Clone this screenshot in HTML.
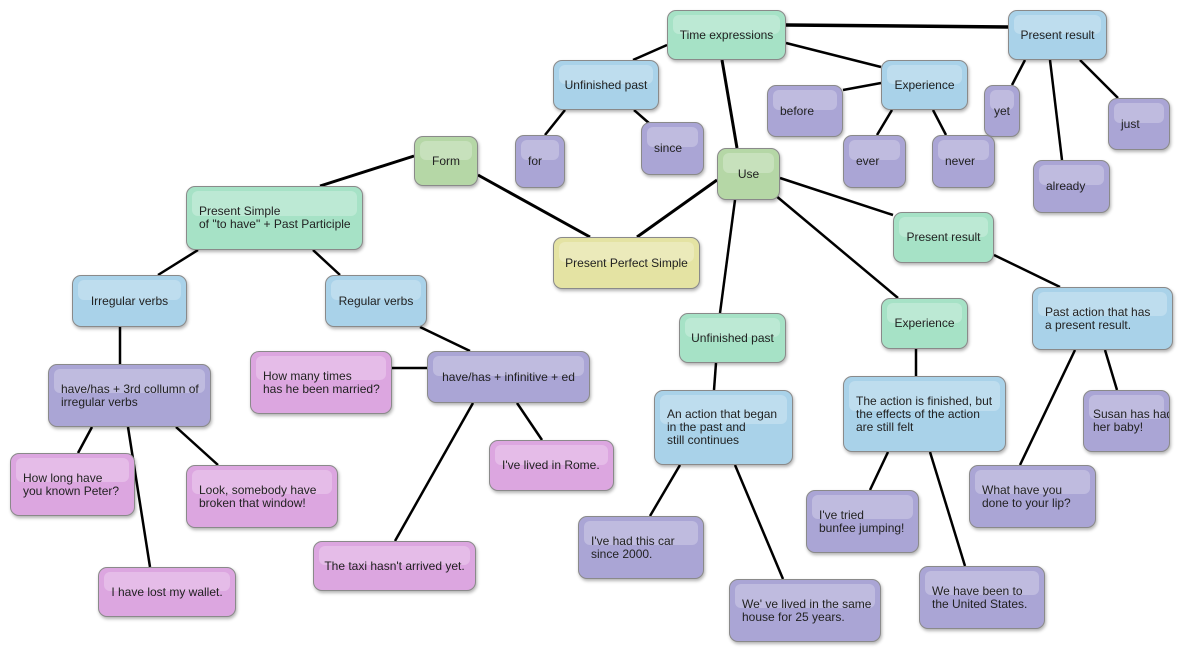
<!DOCTYPE html>
<html><head><meta charset="utf-8"><style>
body{margin:0;width:1200px;height:658px;background:#fff;position:relative;overflow:hidden;font-family:"Liberation Sans",sans-serif;}
svg{position:absolute;left:0;top:0}
.b{position:absolute;box-sizing:border-box;border:1.5px solid #8a8a8a;border-radius:9px;display:flex;align-items:center;padding:0 12px;font-size:12px;line-height:13px;color:#222;box-shadow:1px 2px 3px rgba(0,0,0,.3);overflow:hidden;white-space:nowrap}
.b::before{content:"";position:absolute;left:5px;right:5px;top:4px;height:40%;border-radius:6px;background:rgba(255,255,255,.25)}
.b span{position:relative}
.g{background:#a6e2c6}.bl{background:#a9d2e9}.p{background:#aaa5d5}.pk{background:#dca6e0}.o{background:#b5d7a6}.y{background:#e4e3a3}
.c{justify-content:center}
</style></head><body>
<svg width="1200" height="658" stroke="#000" stroke-width="2.5" fill="none">
<line x1="786" y1="25" x2="1008" y2="27" stroke-width="3.5"/>
<line x1="667" y1="45" x2="633" y2="60"/>
<line x1="786" y1="43" x2="881" y2="67"/>
<line x1="722" y1="60" x2="737" y2="148" stroke-width="3"/>
<line x1="565" y1="110" x2="545" y2="135"/>
<line x1="634" y1="110" x2="650" y2="124"/>
<line x1="843" y1="90" x2="881" y2="83"/>
<line x1="892" y1="110" x2="877" y2="135"/>
<line x1="933" y1="110" x2="946" y2="135"/>
<line x1="1025" y1="60" x2="1012" y2="85"/>
<line x1="1050" y1="60" x2="1062" y2="160"/>
<line x1="1080" y1="60" x2="1118" y2="98"/>
<line x1="414" y1="156" x2="320" y2="186" stroke-width="3"/>
<line x1="478" y1="175" x2="590" y2="237" stroke-width="3"/>
<line x1="717" y1="180" x2="637" y2="237" stroke-width="3"/>
<line x1="735" y1="200" x2="720" y2="313"/>
<line x1="775" y1="195" x2="898" y2="298"/>
<line x1="780" y1="178" x2="893" y2="215"/>
<line x1="994" y1="255" x2="1060" y2="287"/>
<line x1="198" y1="250" x2="158" y2="275"/>
<line x1="313" y1="250" x2="340" y2="275"/>
<line x1="120" y1="327" x2="120" y2="364"/>
<line x1="420" y1="327" x2="470" y2="351"/>
<line x1="392" y1="368" x2="427" y2="368"/>
<line x1="473" y1="403" x2="395" y2="541"/>
<line x1="517" y1="403" x2="542" y2="440"/>
<line x1="92" y1="427" x2="78" y2="453"/>
<line x1="128" y1="427" x2="150" y2="567"/>
<line x1="176" y1="427" x2="218" y2="465"/>
<line x1="716" y1="363" x2="714" y2="390"/>
<line x1="680" y1="465" x2="650" y2="516"/>
<line x1="735" y1="465" x2="783" y2="579"/>
<line x1="916" y1="349" x2="916" y2="376"/>
<line x1="888" y1="452" x2="870" y2="490"/>
<line x1="930" y1="452" x2="965" y2="566"/>
<line x1="1075" y1="350" x2="1020" y2="465"/>
<line x1="1105" y1="350" x2="1117" y2="390"/>
</svg>
<div class="b g c" style="left:667px;top:10px;width:119px;height:50px"><span>Time expressions</span></div>
<div class="b bl c" style="left:1008px;top:10px;width:99px;height:50px"><span>Present result</span></div>
<div class="b bl c" style="left:553px;top:60px;width:106px;height:50px"><span>Unfinished past</span></div>
<div class="b bl c" style="left:881px;top:60px;width:87px;height:50px"><span>Experience</span></div>
<div class="b p" style="left:767px;top:85px;width:76px;height:52px"><span>before</span></div>
<div class="b p" style="left:984px;top:85px;width:36px;height:52px;padding:0 9px"><span>yet</span></div>
<div class="b p" style="left:1108px;top:98px;width:62px;height:52px"><span>just</span></div>
<div class="b p" style="left:515px;top:135px;width:50px;height:53px"><span>for</span></div>
<div class="b p" style="left:641px;top:122px;width:63px;height:53px"><span>since</span></div>
<div class="b p" style="left:843px;top:135px;width:63px;height:53px"><span>ever</span></div>
<div class="b p" style="left:932px;top:135px;width:63px;height:53px"><span>never</span></div>
<div class="b p" style="left:1033px;top:160px;width:77px;height:53px"><span>already</span></div>
<div class="b o c" style="left:414px;top:136px;width:64px;height:50px"><span>Form</span></div>
<div class="b o c" style="left:717px;top:148px;width:63px;height:52px"><span>Use</span></div>
<div class="b g" style="left:186px;top:186px;width:177px;height:64px"><span>Present Simple<br>of "to have" + Past Participle</span></div>
<div class="b y c" style="left:553px;top:237px;width:147px;height:52px"><span>Present Perfect Simple</span></div>
<div class="b g c" style="left:893px;top:212px;width:101px;height:51px"><span>Present result</span></div>
<div class="b bl c" style="left:72px;top:275px;width:115px;height:52px"><span>Irregular verbs</span></div>
<div class="b bl c" style="left:325px;top:275px;width:102px;height:52px"><span>Regular verbs</span></div>
<div class="b g c" style="left:679px;top:313px;width:107px;height:50px"><span>Unfinished past</span></div>
<div class="b g c" style="left:881px;top:298px;width:87px;height:51px"><span>Experience</span></div>
<div class="b bl" style="left:1032px;top:287px;width:141px;height:63px"><span>Past action that has<br>a present result.</span></div>
<div class="b p" style="left:48px;top:364px;width:163px;height:63px"><span>have/has + 3rd collumn of<br>irregular verbs</span></div>
<div class="b pk" style="left:250px;top:351px;width:142px;height:63px"><span>How many times<br>has he been married?</span></div>
<div class="b p c" style="left:427px;top:351px;width:163px;height:52px"><span>have/has + infinitive + ed</span></div>
<div class="b bl" style="left:654px;top:390px;width:139px;height:75px"><span>An action that began<br>in the past and<br>still continues</span></div>
<div class="b bl" style="left:843px;top:376px;width:163px;height:76px"><span>The action is finished, but<br>the effects of the action<br>are still felt</span></div>
<div class="b p" style="left:1083px;top:390px;width:87px;height:62px;padding:0 9px"><span>Susan has had<br>her baby!</span></div>
<div class="b pk" style="left:10px;top:453px;width:125px;height:63px"><span>How long have<br>you known Peter?</span></div>
<div class="b pk" style="left:186px;top:465px;width:152px;height:63px"><span>Look, somebody have<br>broken that window!</span></div>
<div class="b pk" style="left:489px;top:440px;width:125px;height:51px"><span>I've lived in Rome.</span></div>
<div class="b p" style="left:969px;top:465px;width:127px;height:63px"><span>What have you<br>done to your lip?</span></div>
<div class="b p" style="left:578px;top:516px;width:126px;height:63px"><span>I've had this car<br>since 2000.</span></div>
<div class="b p" style="left:806px;top:490px;width:113px;height:63px"><span>I've tried<br>bunfee jumping!</span></div>
<div class="b pk c" style="left:313px;top:541px;width:163px;height:50px"><span>The taxi hasn't arrived yet.</span></div>
<div class="b pk c" style="left:98px;top:567px;width:138px;height:50px"><span>I have lost my wallet.</span></div>
<div class="b p" style="left:729px;top:579px;width:152px;height:63px"><span>We' ve lived in the same<br>house for 25 years.</span></div>
<div class="b p" style="left:919px;top:566px;width:126px;height:63px"><span>We have been to<br>the United States.</span></div>
</body></html>
